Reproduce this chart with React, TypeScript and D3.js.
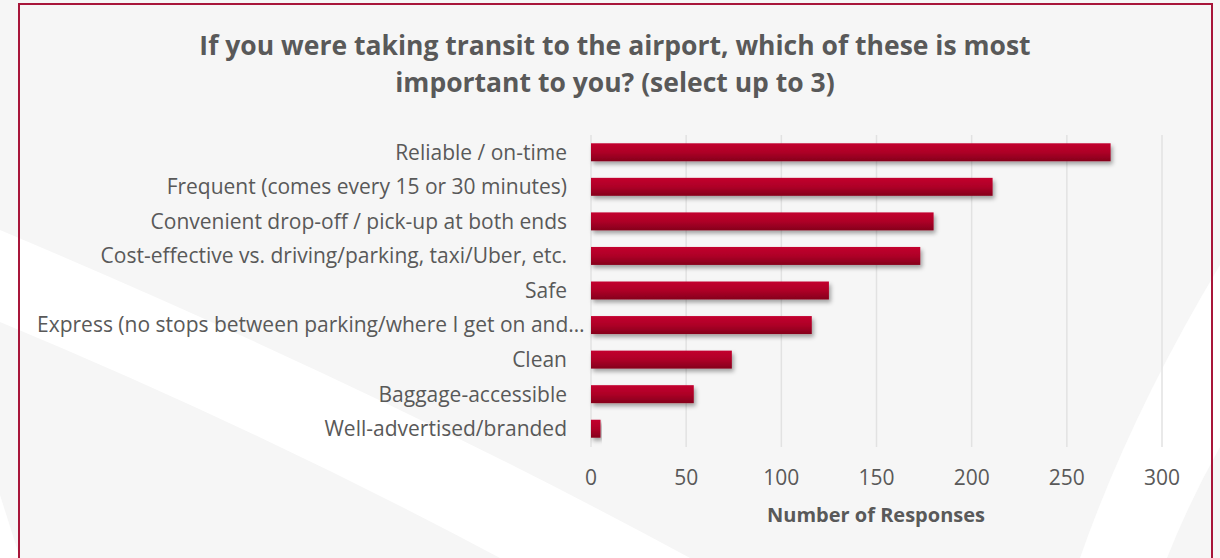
import React from 'react';
import * as d3 from 'd3';

const categories = [
  'Reliable / on-time',
  'Frequent (comes every 15 or 30 minutes)',
  'Convenient drop-off / pick-up at both ends',
  'Cost-effective vs. driving/parking, taxi/Uber, etc.',
  'Safe',
  'Express (no stops between parking/where I get on and…',
  'Clean',
  'Baggage-accessible',
  'Well-advertised/branded',
];
const responses = [273, 211, 180, 173, 125, 116, 74, 54, 5];
const xTicks = [0, 50, 100, 150, 200, 250, 300];
const titleLines = [
  'If you were taking transit to the airport, which of these is most',
  'important to you? (select up to 3)',
];
const xAxisTitle = 'Number of Responses';

const W = 1220;
const H = 558;
const textColor = '#595959';
const font = "'Open Sans', sans-serif";

export default function App() {
  const x = d3.scaleLinear().domain([0, 300]).range([591, 1162]);
  const y = d3.scaleBand<string>().domain(categories).range([135, 446]).paddingInner(0.48).paddingOuter(0.24);

  return (
    <svg width={W} height={H} style={{ position: 'absolute', left: 0, top: 0 }} fontFamily={font}>
      <defs>
        <linearGradient id="barGrad" x1="0" y1="0" x2="0" y2="1">
          <stop offset="0" stopColor="#c3002e" />
          <stop offset="0.5" stopColor="#ae0027" />
          <stop offset="1" stopColor="#85001c" />
        </linearGradient>
        <filter id="shadow" x="-5%" y="-40%" width="115%" height="200%">
          <feDropShadow dx="2" dy="3" stdDeviation="2" floodColor="#000" floodOpacity="0.35" />
        </filter>
      </defs>

      {/* background with white swooshes */}
      <rect width={W} height={H} fill="#f6f6f6" />
      <path d="M0,230 Q380,390 690,558 L500,558 Q260,430 0,322 Z" fill="#fff" />
      <path d="M0,495 L20,558 L0,558 Z" fill="#fff" />
      <path d="M1220,265 Q1130,415 1080,558 L1167,558 Q1190,500 1220,447 Z" fill="#fff" />

      <rect x={19} y={4} width={1193} height={H + 10} fill="none" stroke="#a8163a" strokeWidth={2} />

      {titleLines.map((t, i) => (
        <text key={i} x={615} y={54.5 + i * 37} textAnchor="middle" fontSize={26.5} fontWeight="bold" fill={textColor}>
          {t}
        </text>
      ))}

      {xTicks.map((t) => (
        <g key={t}>
          <line x1={x(t)} x2={x(t)} y1={135} y2={447} stroke="#e2e2e2" strokeWidth={1.5} />
          <text x={x(t)} y={478} dy="0.35em" textAnchor="middle" fontSize={21} fill={textColor}>
            {t}
          </text>
        </g>
      ))}

      {categories.map((c, i) => {
        // Excel lets the truncated label spill from the left margin
        const clipped = c.endsWith('…');
        return (
          <g key={c}>
            <text
              x={clipped ? 37 : 567}
              y={y(c)! + y.bandwidth() / 2}
              dy="0.35em"
              textAnchor={clipped ? 'start' : 'end'}
              fontSize={21}
              fill={textColor}
            >
              {c}
            </text>
            <rect
              x={x(0)}
              y={y(c)}
              width={x(responses[i]) - x(0)}
              height={y.bandwidth()}
              fill="url(#barGrad)"
              filter="url(#shadow)"
            />
          </g>
        );
      })}

      <text x={876} y={515} dy="0.35em" textAnchor="middle" fontSize={20} fontWeight="bold" fill={textColor}>
        {xAxisTitle}
      </text>
    </svg>
  );
}
